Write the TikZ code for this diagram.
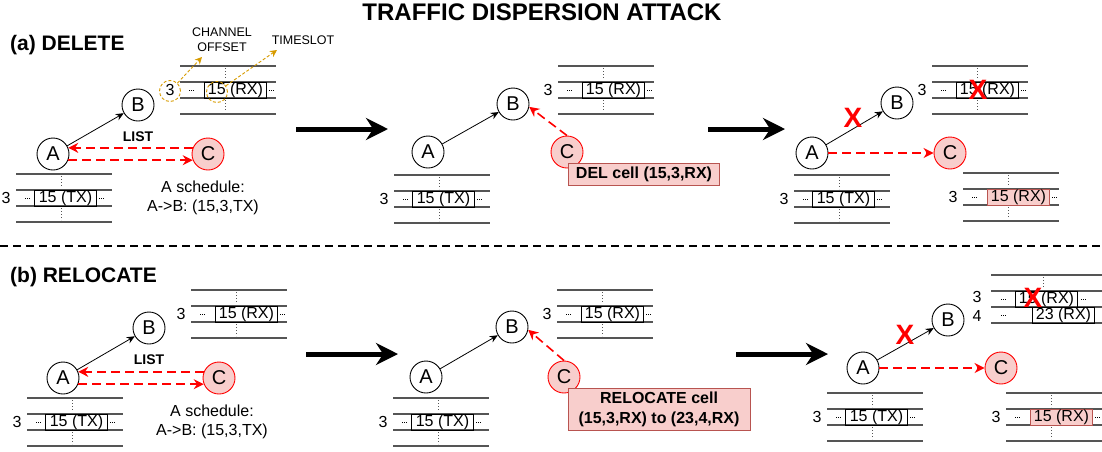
\documentclass[tikz,border=0pt]{standalone}
\usepackage{fontspec}
\setmainfont{Liberation Sans}
\usepackage{xcolor}
\usepackage{tikz}
\usetikzlibrary{arrows.meta}

\definecolor{pinkfill}{HTML}{F8CECC}
\definecolor{pinkedge}{HTML}{B85450}
\definecolor{hotred}{HTML}{FF0000}
\definecolor{hintorange}{HTML}{D79B00}
\definecolor{rulegray}{HTML}{555555}

\newcommand{\px}[1]{\fontsize{#1}{#1}\selectfont}

\tikzset{
	station/.style={circle, draw, line width=0.9pt, minimum size=32pt, inner sep=0pt, font=\px{20}},
	rogue/.style={station, draw=hotred, fill=pinkfill},
	gridline/.style={draw=rulegray, line width=1.1pt},
	vdots/.style={draw=rulegray, line width=0.9pt, dash pattern=on 1pt off 2pt},
	hdots/.style={draw=black, line width=0.7pt, dash pattern=on 1pt off 1pt},
	cellbox/.style={draw, line width=0.9pt, minimum width=62pt, minimum height=16pt, inner sep=0pt, font=\px{16}},
	chlabel/.style={inner sep=0pt, font=\px{16}},
	link/.style={draw, line width=0.8pt, -{Stealth[length=8pt,width=7pt]}},
	attackflow/.style={draw=hotred, line width=1.6pt, dash pattern=on 9pt off 5pt, -{Stealth[length=10pt,width=10pt]}},
	bigstep/.style={draw, line width=5pt, -{Stealth[length=22pt,width=22pt]}},
	hint/.style={draw=hintorange, line width=0.9pt, dash pattern=on 3pt off 2pt, -{Stealth[length=7pt,width=7pt]}},
	hintring/.style={circle, draw=hintorange, line width=0.9pt, dash pattern=on 3pt off 2pt, minimum size=21pt, inner sep=0pt},
	actionbox/.style={draw=pinkedge, fill=pinkfill, line width=1pt, inner sep=0pt, font=\fontsize{16}{20}\selectfont\bfseries, align=center},
	strike/.style={text=hotred, inner sep=0pt, font=\px{28}\bfseries},
}

% slot table: name, top left x, top left y, cell offset, cell text, cell style
\newcommand{\slotgrid}[6]{%
	\foreach \k in {0,16,32,48}
		\draw[gridline] (#2,#3+\k) -- ++(96,0);
	\draw[vdots] (#2+45,#3+2) -- (#2+45,#3+14);
	\draw[vdots] (#2+45,#3+34) -- (#2+45,#3+46);
	\draw[hdots] (#2+9,#3+24) -- (#2+15,#3+24);
	\draw[hdots] (#2+#4+65,#3+24) -- (#2+#4+71,#3+24);
	\node[cellbox,#6,anchor=west] (#1) at (#2+#4,#3+24) {#5};
	\node[chlabel] (#1-ch) at (#2-10,#3+24) {3};
}

\begin{document}
\begin{tikzpicture}[x=1pt,y=-1pt]
	\useasboundingbox (0,0) rectangle (1102,451);

	\node[font=\px{24}\bfseries] (title) at (542,12) {TRAFFIC DISPERSION ATTACK};
	\node[anchor=west, inner sep=0pt, font=\px{21}\bfseries] (head-a) at (10,45) {(a) DELETE};
	\node[anchor=west, inner sep=0pt, font=\px{21}\bfseries] (head-b) at (10,277) {(b) RELOCATE};
	\draw[line width=2pt, dash pattern=on 8pt off 5pt] (0,246) -- (1102,246);

	% (a) delete
	\slotgrid{del1-tx}{16}{174}{18}{15 (TX)}{}
	\slotgrid{del1-rx}{180}{66}{24}{15 (RX)}{}
	\slotgrid{del2-tx}{394}{175}{18}{15 (TX)}{}
	\slotgrid{del2-rx}{558}{66}{24}{15 (RX)}{}
	\slotgrid{del3-tx}{794}{175}{18}{15 (TX)}{}
	\slotgrid{del3-rx}{932}{66}{24}{15 (RX)}{}
	\slotgrid{del3-cx}{963}{173}{24}{15 (RX)}{fill=pinkfill, draw=pinkedge}

	\node[station] (delA1) at (53,154) {A};
	\node[station] (delB1) at (138,105) {B};
	\node[rogue] (delC1) at (208,154) {C};
	\draw[link] (delA1) -- (delB1);
	\draw[attackflow] (delC1.158) -- (delA1.22);
	\draw[attackflow] (delA1.-22) -- (delC1.-158);
	\node[font=\px{14}\bfseries] (list-a) at (138,137) {LIST};
	\node[font=\fontsize{16}{18.5}\selectfont, align=center] (sched-a) at (203,198) {A schedule:\\A->B: (15,3,TX)};

	\node[hintring] (ch-ring) at (170,91) {};
	\node[hintring] (ts-ring) at (217,92) {};
	\coordinate (ch-tip) at (202,57);
	\coordinate (ts-tip) at (277,50);
	\draw[hint] (ch-ring) -- (ch-tip);
	\draw[hint] (ts-ring) -- (ts-tip);
	\node[font=\fontsize{12.5}{15}\selectfont, align=center] (ch-note) at (222,40) {CHANNEL\\OFFSET};
	\node[font=\px{12.5}] (ts-note) at (303,40) {TIMESLOT};

	\coordinate (del-go1) at (296,129);
	\coordinate (del-end1) at (388,129);
	\draw[bigstep] (del-go1) -- (del-end1);

	\node[station] (delA2) at (428,152) {A};
	\node[station] (delB2) at (513,104) {B};
	\node[rogue] (delC2) at (567,152) {C};
	\draw[link] (delA2) -- (delB2);
	\draw[attackflow] (delC2.north) -- (delB2.-10);
	\node[actionbox, minimum width=151pt, minimum height=22pt] (del-box) at (644,174) {DEL cell (15,3,RX)};

	\coordinate (del-go2) at (708,129);
	\coordinate (del-end2) at (785,129);
	\draw[bigstep] (del-go2) -- (del-end2);

	\node[station] (delA3) at (812,153) {A};
	\node[station] (delB3) at (897,103) {B};
	\node[rogue] (delC3) at (950,153) {C};
	\draw[link] (delA3) -- (delB3);
	\draw[attackflow] (delA3) -- (delC3);
	\node[strike] (del-cut) at (853,118) {X};
	\node[strike] (del-gone) at (978,90) {X};

	% (b) relocate
	\slotgrid{rel1-tx}{27}{398}{18}{15 (TX)}{}
	\slotgrid{rel1-rx}{191}{290}{24}{15 (RX)}{}
	\slotgrid{rel2-tx}{393}{398}{18}{15 (TX)}{}
	\slotgrid{rel2-rx}{557}{290}{24}{15 (RX)}{}
	\slotgrid{rel3-tx}{827}{393}{18}{15 (TX)}{}
	\slotgrid{rel3-cx}{1006}{393}{24}{15 (RX)}{fill=pinkfill, draw=pinkedge}

	% two rows after the move
	\foreach \k in {0,16,32,48}
		\draw[gridline] (991,275+\k) -- (1102,275+\k);
	\draw[vdots] (1043,277) -- (1043,289);
	\draw[hdots] (1001,299) -- (1007,299);
	\draw[hdots] (1001,315) -- (1007,315);
	\draw[hdots] (1081,299) -- (1087,299);
	\node[cellbox, anchor=west] (rel3-old) at (1015,299) {15 (RX)};
	\node[cellbox, anchor=west] (rel3-new) at (1032,315) {23 (RX)};
	\node[chlabel] (rel3-ch3) at (977,297) {3};
	\node[chlabel] (rel3-ch4) at (977,316) {4};

	\node[station] (relA1) at (63,378) {A};
	\node[station] (relB1) at (149,328) {B};
	\node[rogue] (relC1) at (219,378) {C};
	\draw[link] (relA1) -- (relB1);
	\draw[attackflow] (relC1.158) -- (relA1.22);
	\draw[attackflow] (relA1.-22) -- (relC1.-158);
	\node[font=\px{14}\bfseries] (list-b) at (149,360) {LIST};
	\node[font=\fontsize{16}{18.5}\selectfont, align=center] (sched-b) at (212,422) {A schedule:\\A->B: (15,3,TX)};

	\coordinate (rel-go1) at (306,354);
	\coordinate (rel-end1) at (398,354);
	\draw[bigstep] (rel-go1) -- (rel-end1);

	\node[station] (relA2) at (426,377) {A};
	\node[station] (relB2) at (512,327) {B};
	\node[rogue] (relC2) at (564,377) {C};
	\draw[link] (relA2) -- (relB2);
	\draw[attackflow] (relC2.north) -- (relB2.-10);
	\node[actionbox, minimum width=182pt, minimum height=42pt] (rel-box) at (659,409) {RELOCATE cell\\(15,3,RX) to (23,4,RX)};

	\coordinate (rel-go2) at (736,354);
	\coordinate (rel-end2) at (828,354);
	\draw[bigstep] (rel-go2) -- (rel-end2);

	\node[station] (relA3) at (863,368) {A};
	\node[station] (relB3) at (948,320) {B};
	\node[rogue] (relC3) at (1001,368) {C};
	\draw[link] (relA3) -- (relB3);
	\draw[attackflow] (relA3) -- (relC3);
	\node[strike] (rel-cut) at (905,335) {X};
	\node[strike] (rel-gone) at (1033,298) {X};
\end{tikzpicture}
\end{document}
